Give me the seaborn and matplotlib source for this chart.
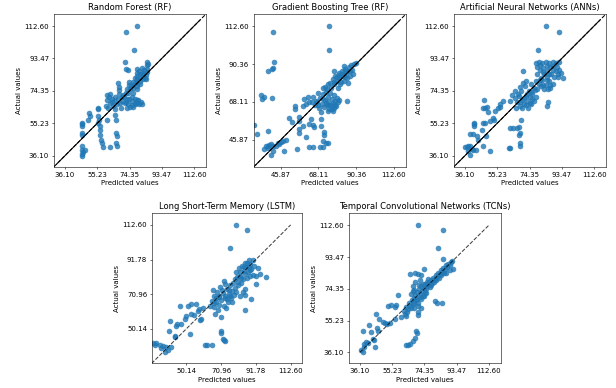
import matplotlib
matplotlib.use('Agg')
import matplotlib.pyplot as plt
import seaborn as sns
import pandas as pd

# (predicted, actual)
rf_points = [
    (79.0, 112.8), (72.1, 109.2), (77.0, 98.5), (71.9, 91.6), (72.3, 87.5), (73.5, 86.5),
    (84.5, 91.4), (84.5, 89.5), (84.5, 87.5), (84.5, 85.5), (84.3, 83.5), (84.0, 81.5),
    (82.5, 85.1), (82.5, 83.1), (82.5, 81.2),
    (80.6, 84.1), (80.6, 82.1), (80.6, 80.2), (80.6, 78.2),
    (79.0, 87.1), (79.0, 85.1), (79.0, 83.1), (79.0, 81.2), (79.0, 79.2), (79.0, 77.2), (79.0, 75.2),
    (76.2, 79.8), (76.2, 77.6), (76.2, 75.8),
    (74.2, 79.6), (74.2, 77.6), (74.6, 75.2), (73.6, 73.3),
    (67.7, 78.8), (67.9, 76.8), (67.9, 74.8),
    (71.1, 70.9), (72.7, 69.3), (75.6, 70.9), (77.6, 69.7), (79.6, 68.9), (71.7, 66.9),
    (73.6, 66.3), (75.6, 65.9), (77.6, 66.3), (79.0, 66.9), (74.6, 64.9), (76.6, 64.9),
    (72.3, 73.3), (76.6, 73.3), (81.0, 67.5), (78.0, 67.0),
    (82.0, 88.0), (83.0, 86.5), (81.5, 84.0), (83.5, 82.0), (85.0, 90.0), (80.0, 86.0),
    (77.5, 82.0), (78.0, 79.5), (75.5, 77.0), (73.0, 75.5), (70.5, 72.0), (72.0, 68.0),
    (74.0, 69.5), (76.0, 68.5), (78.5, 69.0), (80.0, 66.5), (82.0, 66.5), (73.0, 64.5),
    (69.0, 64.5), (64.0, 67.5), (66.0, 70.5), (63.0, 72.5), (60.5, 65.5),
    (60.8, 71.7), (62.4, 70.9), (61.2, 68.9), (63.8, 69.7), (65.1, 68.3), (62.9, 66.9),
    (64.4, 65.3), (61.8, 64.4), (66.7, 66.3), (67.7, 69.7), (68.7, 67.3), (65.7, 63.4),
    (69.7, 70.9), (68.3, 72.3), (70.0, 68.5),
    (60.8, 57.4), (66.3, 57.4), (66.0, 59.8),
    (66.3, 49.5), (66.7, 47.6), (66.3, 43.6), (67.1, 42.0),
    (58.8, 41.0), (62.8, 41.0),
    (55.9, 64.3), (55.9, 63.5), (55.9, 59.4), (56.2, 57.4), (55.9, 55.5),
    (56.8, 53.5), (56.8, 51.0), (57.0, 48.5), (57.4, 45.6), (57.8, 43.6),
    (50.5, 61.4), (50.9, 59.4), (49.9, 57.4),
    (46.4, 55.5), (46.4, 54.5), (46.4, 53.5), (46.4, 49.5), (46.4, 48.0),
    (46.4, 41.6), (46.4, 39.7), (46.6, 38.5), (46.4, 37.0), (46.4, 36.1), (47.9, 39.7),
]

gbt_points = [
    (74.6, 112.6), (41.3, 109.1), (74.2, 98.5), (41.9, 91.5), (38.0, 86.0), (40.9, 87.2), (41.3, 88.0),
    (34.0, 72.2), (36.0, 70.8), (34.6, 69.7), (40.5, 70.3),
    (30.0, 54.8), (32.0, 49.2), (38.0, 50.9),
    (37.0, 42.4), (38.0, 42.0), (38.9, 42.8), (39.9, 43.3), (41.3, 42.0), (42.9, 42.4),
    (43.9, 43.9), (44.9, 43.1), (45.9, 44.3), (46.9, 45.1), (39.9, 36.9), (41.3, 39.4),
    (47.9, 39.4), (36.0, 40.4), (38.5, 40.8),
    (48.8, 45.9), (55.2, 40.4),
    (50.4, 58.7), (52.2, 56.4), (54.4, 65.4), (54.4, 64.2),
    (56.8, 59.5), (56.8, 57.0), (58.7, 54.1), (56.4, 52.1), (56.4, 49.8), (60.7, 47.4),
    (62.3, 41.4), (64.7, 41.4),
    (63.7, 58.0), (64.7, 54.5), (62.7, 55.0), (65.7, 53.1),
    (69.6, 53.7), (69.6, 58.0), (71.4, 50.2), (71.6, 48.6), (71.0, 45.3), (72.6, 43.7),
    (73.6, 43.7), (70.6, 41.4), (69.2, 41.8),
    (80.5, 69.3), (84.9, 68.5),
    (58.7, 65.8), (60.7, 66.7), (62.3, 68.1), (59.7, 69.7), (61.7, 71.2),
    (66.0, 66.0), (67.5, 68.0), (68.5, 64.5), (69.0, 70.5), (70.0, 67.0), (71.0, 72.5),
    (71.5, 65.0), (72.0, 69.0), (72.5, 74.0), (73.0, 66.5), (73.5, 71.0), (74.0, 68.0),
    (74.5, 64.0), (75.0, 73.5), (75.5, 66.0), (76.0, 70.0), (76.5, 67.5), (77.0, 64.5),
    (77.5, 72.0), (78.0, 68.5), (78.5, 65.5), (79.0, 70.5), (72.0, 77.0), (70.5, 76.0),
    (74.0, 78.5), (68.0, 73.5), (65.0, 71.0), (73.5, 62.5), (69.5, 62.0), (76.5, 62.5),
    (80.5, 84.0), (82.0, 84.5), (83.5, 86.0), (85.5, 86.5), (86.5, 83.5), (84.0, 83.0),
    (81.5, 80.0), (79.0, 82.5), (77.0, 80.0), (75.5, 76.0), (73.0, 75.5), (70.5, 70.0),
    (72.5, 67.5), (74.5, 66.5), (76.0, 64.0), (78.0, 66.5), (79.5, 68.0), (68.0, 66.5),
    (66.5, 68.5), (64.5, 68.0),
    (75.0, 79.0), (76.5, 81.5), (77.5, 78.5), (78.0, 83.5), (79.0, 80.5), (80.0, 85.0),
    (80.5, 82.0), (81.0, 78.5), (82.0, 86.5), (82.5, 83.5), (83.0, 80.5), (84.0, 87.5),
    (84.5, 85.0), (85.0, 82.0), (86.0, 88.5), (86.5, 86.0), (87.5, 89.5), (88.0, 87.0),
    (89.0, 90.5), (90.0, 91.0), (88.5, 84.5), (85.5, 79.5), (79.5, 76.5), (77.0, 86.5), (83.0, 89.0),
]

ann_points = [
    (83.9, 112.8), (91.6, 109.2), (79.2, 98.5), (70.3, 85.9), (94.4, 81.9),
    (78.0, 91.0), (80.0, 91.2), (82.0, 91.0), (84.0, 91.2), (86.0, 91.0), (88.0, 91.2), (90.0, 91.0), (92.0, 91.4),
    (78.5, 88.5), (80.5, 86.5), (82.5, 88.0), (84.5, 86.0), (86.5, 88.5), (88.5, 86.5),
    (90.5, 88.5), (92.0, 86.5), (79.0, 84.0), (81.0, 82.0), (83.0, 84.5), (85.0, 82.5),
    (87.0, 84.0), (89.0, 82.5), (91.0, 84.5), (93.0, 85.0), (78.0, 80.0), (80.0, 78.5),
    (82.0, 80.5), (84.0, 78.0), (86.0, 80.0), (88.0, 78.5), (77.0, 76.0), (79.0, 75.5),
    (81.0, 77.0), (83.0, 75.5),
    (80.5, 89.5), (82.5, 85.5), (84.5, 89.0), (86.0, 84.5), (88.0, 89.0), (90.0, 86.0),
    (91.5, 82.5), (80.5, 80.5), (82.5, 78.0), (84.5, 80.5), (86.5, 78.0), (75.5, 73.5),
    (73.0, 72.5), (71.0, 70.0), (69.0, 68.0), (67.5, 72.5), (76.0, 69.5), (74.5, 67.0),
    (72.0, 66.0), (70.0, 64.0),
    (85.5, 75.2), (86.5, 76.0), (85.5, 67.7), (84.9, 65.3),
    (64.0, 72.0), (65.5, 70.0), (66.0, 74.5), (67.0, 68.0), (68.0, 71.5), (69.0, 65.5),
    (69.5, 74.0), (70.0, 69.0), (71.0, 66.5), (71.5, 77.0), (72.0, 71.5), (73.0, 68.5),
    (73.5, 64.5), (74.0, 74.0), (74.5, 70.5), (75.0, 66.5), (75.5, 78.5), (76.0, 72.5),
    (77.0, 68.5), (77.5, 75.0), (78.0, 71.0), (66.5, 64.5), (63.0, 68.5), (70.5, 79.0),
    (72.5, 80.0), (68.5, 76.5),
    (62.8, 52.5), (64.8, 52.5), (66.7, 52.5), (68.3, 53.0), (69.1, 57.4),
    (68.7, 49.5), (68.3, 48.0), (68.7, 43.6), (68.7, 41.6), (62.4, 40.8), (63.0, 40.8),
    (56.8, 65.0), (55.9, 64.3), (56.8, 66.5), (58.8, 68.3),
    (53.9, 62.4), (53.0, 58.4), (53.3, 57.4),
    (47.4, 68.9), (48.0, 64.5), (47.0, 64.1), (49.0, 65.0),
    (50.0, 62.0), (50.9, 56.3), (46.0, 51.5),
    (41.4, 55.5), (41.4, 54.5), (41.6, 53.5),
    (39.0, 49.0), (41.0, 48.6), (47.0, 55.5), (48.0, 55.5),
    (48.6, 47.6), (43.0, 47.6), (44.0, 45.4),
    (36.1, 41.2), (37.1, 41.2), (38.1, 41.6), (39.1, 41.6), (40.0, 40.0), (41.0, 39.7),
    (42.6, 39.7), (47.0, 41.6), (39.1, 36.5), (51.0, 38.9), (38.0, 39.0),
]

lstm_points = [
    (79.9, 112.7), (86.5, 109.7), (76.1, 98.8), (98.1, 81.5), (92.1, 76.9), (89.1, 68.0), (85.5, 61.7),
    (93.1, 86.9), (94.1, 82.9), (92.1, 81.9), (90.1, 82.5),
    (80.0, 84.0), (81.5, 86.5), (82.5, 82.0), (83.5, 88.0), (84.5, 85.0), (85.5, 90.0),
    (86.0, 87.0), (87.0, 84.0), (87.5, 91.5), (88.5, 89.0), (89.0, 86.0), (90.0, 91.5),
    (90.5, 88.0), (84.0, 80.0), (86.5, 80.5), (88.0, 82.0), (79.0, 80.0), (81.0, 78.5), (83.0, 77.5),
    (82.5, 84.5), (84.5, 87.5), (86.5, 89.5), (88.5, 85.5), (87.5, 87.0), (85.5, 83.0),
    (83.0, 80.5), (80.5, 81.5), (78.0, 77.5), (75.5, 73.5), (73.0, 70.0), (71.5, 73.5),
    (70.0, 70.0), (68.0, 68.5), (66.5, 65.5), (74.5, 68.0), (76.0, 70.0), (77.5, 66.0),
    (79.5, 74.5), (81.0, 76.5),
    (64.5, 64.0), (65.5, 67.0), (66.5, 70.0), (67.0, 63.5), (68.0, 66.5), (68.5, 72.5),
    (69.5, 69.0), (70.0, 64.5), (70.5, 75.0), (71.0, 67.5), (72.0, 71.5), (72.5, 64.0),
    (73.0, 77.0), (73.5, 68.5), (74.5, 74.0), (75.0, 66.0), (75.5, 71.0), (76.5, 76.5),
    (77.0, 68.5), (77.5, 73.0), (78.5, 70.5), (66.0, 73.5), (69.0, 61.5), (72.5, 79.0),
    (74.0, 62.5), (80.0, 72.5), (82.0, 70.0), (84.0, 72.0), (85.5, 74.0), (85.1, 70.6),
    (70.7, 57.5), (67.1, 59.1), (70.7, 49.0), (70.9, 47.5), (72.1, 44.1), (72.7, 43.3), (73.5, 43.0),
    (61.1, 40.7), (62.7, 40.5), (65.5, 40.3),
    (46.5, 63.6), (51.1, 64.0), (53.0, 65.0), (56.1, 65.0), (57.1, 60.7), (59.1, 56.3),
    (58.1, 55.3), (53.1, 59.1), (50.1, 58.1), (49.1, 56.1), (47.1, 53.1), (44.7, 53.1),
    (44.1, 52.1), (40.1, 54.7), (39.5, 49.1), (52.1, 47.2), (43.1, 46.1), (43.5, 45.1),
    (55.0, 58.5), (57.5, 62.0), (60.0, 62.5),
    (30.1, 41.8), (32.1, 41.4), (34.1, 40.4), (36.1, 39.8), (38.1, 39.0), (37.1, 36.5),
    (39.1, 37.5), (40.7, 39.5), (31.1, 40.5), (35.0, 38.5),
]

tcn_points = [
    (70.6, 112.6), (85.6, 109.8), (82.2, 98.7), (85.2, 92.1), (74.2, 86.5), (91.6, 86.1),
    (66.0, 83.4), (68.6, 83.8), (70.6, 83.4), (72.6, 82.8), (76.2, 78.2),
    (62.0, 61.0), (63.5, 63.5), (64.5, 62.0), (65.5, 66.0), (66.0, 64.0), (67.0, 67.5),
    (67.5, 65.0), (68.0, 69.0), (68.5, 62.5), (69.0, 70.5), (69.5, 67.5), (70.0, 72.5),
    (70.5, 66.0), (71.0, 74.0), (71.5, 69.5), (72.0, 71.5), (72.5, 76.0), (73.0, 73.0),
    (73.5, 70.0), (74.0, 75.0), (74.5, 72.5), (75.0, 77.5), (75.5, 74.5), (76.0, 76.0),
    (77.0, 78.0), (77.5, 75.5), (78.0, 79.5), (79.0, 78.0), (79.5, 81.0), (80.5, 80.0),
    (81.0, 82.5), (82.0, 81.5), (82.5, 84.0), (83.5, 83.0), (84.0, 85.5), (85.0, 84.5),
    (85.5, 87.0), (86.5, 86.0), (87.0, 88.5), (88.0, 87.5), (88.5, 89.5), (89.5, 88.5),
    (90.0, 90.5), (91.0, 91.0), (89.5, 85.5), (87.0, 84.0),
    (76.5, 80.0), (78.5, 76.5), (80.0, 78.5), (81.5, 79.5), (83.0, 81.0), (84.5, 82.5),
    (86.0, 84.0), (73.5, 77.5), (71.0, 76.5), (70.0, 68.0), (72.5, 68.5), (74.0, 70.0),
    (75.5, 72.0), (68.5, 66.0), (66.5, 62.5), (64.0, 60.5), (70.5, 64.0), (72.5, 63.0),
    (67.5, 76.0), (69.0, 78.5), (71.5, 79.5), (68.0, 73.5), (66.5, 71.0),
    (58.7, 70.8), (67.7, 73.2), (80.6, 67.0), (81.6, 66.0), (84.7, 65.6),
    (70.6, 60.4), (70.6, 58.4),
    (52.7, 64.0), (54.7, 64.6), (56.7, 63.6), (57.7, 64.6),
    (45.7, 59.0), (47.7, 56.1), (49.7, 54.5), (51.1, 54.0), (52.3, 53.3), (53.7, 53.7),
    (56.7, 56.1), (60.7, 57.1), (63.7, 58.1), (62.7, 59.1),
    (69.6, 49.1), (70.0, 47.5), (68.6, 44.5), (67.6, 43.1), (65.6, 41.1), (64.6, 40.7), (63.6, 40.7),
    (41.7, 52.8), (37.7, 48.9), (42.7, 48.3), (46.7, 48.7), (46.3, 50.9),
    (43.7, 44.3), (44.7, 43.3), (45.1, 39.3),
    (36.7, 37.7), (37.7, 36.3), (38.7, 41.3), (39.7, 42.3), (40.7, 41.7), (38.3, 39.3),
]

titles = ['Random Forest (RF)', 'Gradient Boosting Tree (RF)', 'Artificial Neural Networks (ANNs)',
          'Long Short-Term Memory (LSTM)', 'Temporal Convolutional Networks (TCNs)']

ticks_rf = [36.10, 55.23, 74.35, 93.47, 112.60]
ticks_gbt = [23.63, 45.87, 68.11, 90.36, 112.60]
ticks_lstm = [29.32, 50.14, 70.96, 91.78, 112.60]
ticks_tcn = [36.10, 55.23, 74.35, 93.47, 112.60]

limits = [(29.6, 119.7), (30.0, 119.8), (29.6, 119.7), (29.6, 119.6), (29.7, 119.8)]
diag_solid = [(31.0, 116.0), (31.0, 116.0), (31.0, 116.0), None, None]
diag_dashed = [None, None, None, (29.32, 112.60), (36.10, 112.60)]

# posiciones de los ejes [left, bottom, width, height]
posiciones = [
    [0.0877, 0.5704, 0.2468, 0.3936],
    [0.4123, 0.5704, 0.2468, 0.3936],
    [0.7370, 0.5704, 0.2468, 0.3936],
    [0.2468, 0.0644, 0.2440, 0.3860],
    [0.5666, 0.0644, 0.2468, 0.3860],
]

datos = [rf_points, gbt_points, ann_points, lstm_points, tcn_points]
ticks = [ticks_rf, ticks_gbt, ticks_rf, ticks_lstm, ticks_tcn]

fig = plt.figure(figsize=(12.32, 7.76), dpi=50)

for i in range(5):
    ax = fig.add_axes(posiciones[i])
    df = pd.DataFrame(datos[i], columns=['pred', 'actual'])
    sns.scatterplot(data=df, x='pred', y='actual', ax=ax, s=65, alpha=0.8,
                    color='#1f77b4', linewidth=0)
    lo, hi = limits[i]
    if diag_solid[i] is not None:
        ax.plot([lo, hi], [lo, hi], 'k--', lw=1.5)
        ax.plot(diag_solid[i], diag_solid[i], 'k-', lw=1.5)
    else:
        ax.plot(diag_dashed[i], diag_dashed[i], 'k--', lw=1.5, alpha=0.75)
    ax.set_xticks(ticks[i])
    ax.set_yticks(ticks[i])
    ax.set_xticklabels([f'{t:.2f}' for t in ticks[i]])
    ax.set_yticklabels([f'{t:.2f}' for t in ticks[i]])
    # los limites despues de los ticks para que no se amplien
    ax.set_xlim(lo, hi)
    ax.set_ylim(lo, hi)
    ax.set_xlabel('Predicted values')
    ax.set_ylabel('Actual values')
    ax.set_title(titles[i])

fig.savefig('out.png', dpi=50)
plt.close(fig)
